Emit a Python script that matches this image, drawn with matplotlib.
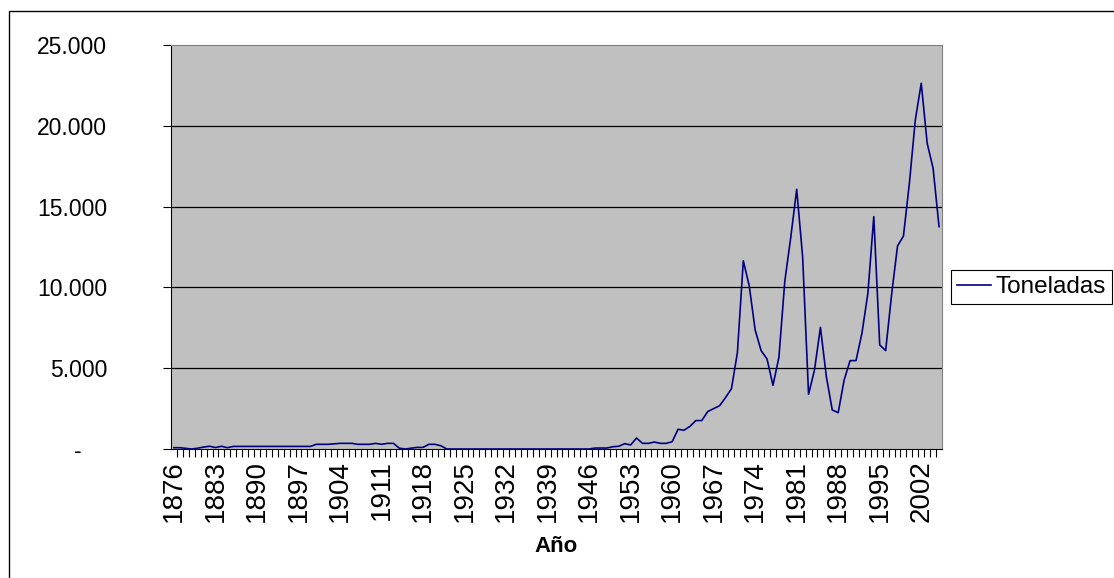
import matplotlib
matplotlib.use('Agg')
from matplotlib import pyplot as plt
from matplotlib.patches import Rectangle

plt.rcParams['font.family'] = ['Liberation Sans', 'DejaVu Sans']

# Datos: toneladas por año (1876-2005)
years = list(range(1876, 2006))
toneladas = [
    80, 80, 40, 0, 50, 120, 170, 90, 170, 80, 160,
    160, 160, 160, 160, 160, 160, 160, 160, 160, 160, 160, 160, 160,
    290, 290, 290, 320, 350, 350, 350, 290, 290, 290, 350, 290, 350, 350,
    50, 0, 50, 100, 100, 290, 290, 200, 0,
    0, 0, 0, 0, 0, 0, 0, 0, 0, 0, 0, 0, 0, 0, 0, 0, 0, 0, 0, 0, 0, 0, 0,
    0, 60, 60, 60, 140, 170, 330, 250, 680, 350, 350, 430, 350, 350, 450,
    1220, 1160, 1400, 1760, 1760, 2320, 2500, 2680, 3180, 3730,
    5960, 11650, 10090, 7360, 6090, 5570, 3940, 5670, 10400, 13100,
    16070, 11900, 3380, 4890, 7530, 4480, 2410, 2250, 4270, 5470,
    5470, 7160, 9630, 14380, 6440, 6090, 9550, 12560, 13180, 16440,
    20360, 22630, 18920, 17370, 13760,
]
xtick_years = list(range(1876, 2006, 7))
ytick_values = [0, 5000, 10000, 15000, 20000, 25000]
ytick_labels = ['-    ', '5.000', '10.000', '15.000', '20.000', '25.000']

fig = plt.figure(figsize=(11.14, 5.78), dpi=100)
ax = fig.add_axes([171 / 1114, 1 - 449 / 578, 771 / 1114, 404 / 578])
ax.set_facecolor('#C0C0C0')

ax.plot(years, toneladas, color='#000080', lw=1.2, label='Toneladas', zorder=3)

ax.set_xlim(years[0] - 0.5, years[-1] + 0.5)
ax.set_ylim(0, 25000)

# rejilla horizontal
for v in ytick_values[1:-1]:
    ax.axhline(v, color='black', lw=0.9, zorder=1)

ax.set_yticks(ytick_values)
ax.set_yticklabels(ytick_labels)
ax.tick_params(axis='y', direction='out', length=6, width=0.8, pad=40, labelsize=16.5)

# marcas entre categorías, etiquetas cada 7 años
ax.set_xticks([y + 0.5 for y in years[:-1]], minor=True)
ax.set_xticks(xtick_years)
ax.set_xticklabels([str(y) for y in xtick_years], rotation=90)
ax.tick_params(axis='x', which='major', length=0, pad=8, labelsize=20)
ax.tick_params(axis='x', which='minor', direction='out', length=6, width=0.8)

for s in ['top', 'right']:
    ax.spines[s].set_color('#808080')
for s in ['left', 'bottom']:
    ax.spines[s].set_color('black')

ax.set_xlabel('Año', fontsize=16, fontweight='bold', labelpad=10)

leg = ax.legend(loc='upper left', bbox_to_anchor=(951 / 1114, 1 - 270 / 578),
                bbox_transform=fig.transFigure, fancybox=False, framealpha=1,
                edgecolor='black', fontsize=17.5, handlelength=1.4,
                borderpad=0.25, handletextpad=0.2, borderaxespad=0)
leg.get_frame().set_linewidth(0.8)

# borde exterior del gráfico
fig.patches.append(Rectangle((9 / 1114, -0.1), 1.2, 1 - 11 / 578 + 0.1,
                             transform=fig.transFigure, fill=False,
                             edgecolor='black', lw=1))

fig.savefig('out.png', dpi=100)
